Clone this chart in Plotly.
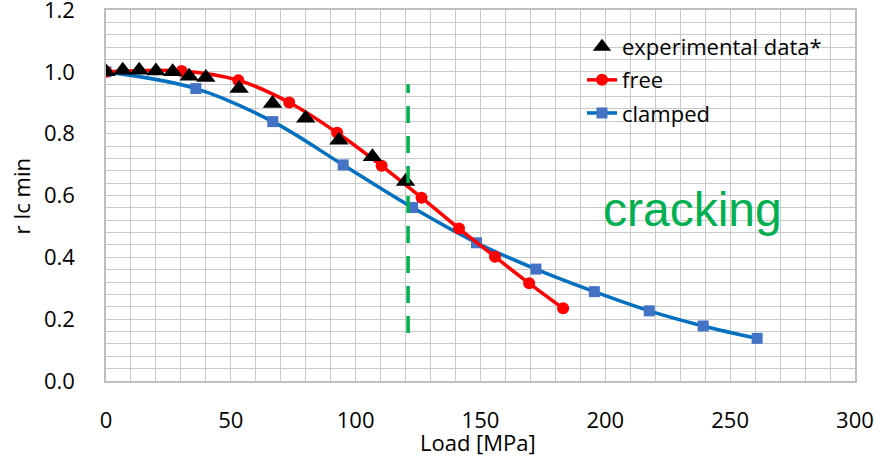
import plotly.graph_objects as go

# ---- data ----
exp_load = [0, 6.7, 13.3, 20, 26.7, 33.3, 40, 53.3, 66.7, 80, 93.3, 106.7, 120]
exp_r = [1.0, 1.005, 1.005, 1.003, 1.0, 0.986, 0.982, 0.946, 0.898, 0.850, 0.779, 0.725, 0.645]

free_load = [0, 30.3, 53, 73.4, 92.6, 110.4, 126.4, 141.4, 155.8, 169.5, 183.1]
free_r = [1.0, 1.003, 0.973, 0.901, 0.803, 0.696, 0.593, 0.493, 0.402, 0.316, 0.235]

clamped_load = [0, 36, 66.8, 95, 122.8, 148.4, 172.2, 195.6, 217.6, 239.2, 260.8]
clamped_r = [1.0, 0.946, 0.839, 0.699, 0.561, 0.447, 0.362, 0.289, 0.227, 0.178, 0.138]

crack_load = [121, 121]
crack_r = [0.155, 0.96]

x_ticks = [0, 50, 100, 150, 200, 250, 300]
y_ticks = [0.0, 0.2, 0.4, 0.6, 0.8, 1.0, 1.2]

FONT = "Open Sans"
GRID = "#CACACA"

fig = go.Figure()

fig.add_trace(go.Scatter(
    x=clamped_load, y=clamped_r, mode="lines+markers", name="clamped",
    line=dict(color="#0070C0", width=3.5, shape="spline", smoothing=1),
    marker=dict(symbol="square", size=11, color="#4472C4"),
    legendrank=3, legendgroup="c"))

fig.add_trace(go.Scatter(
    x=free_load, y=free_r, mode="lines+markers", name="free",
    line=dict(color="#FF0000", width=3.5, shape="spline", smoothing=1),
    marker=dict(symbol="circle", size=12, color="#FF0000"),
    legendrank=2, legendgroup="f"))

fig.add_trace(go.Scatter(
    x=exp_load, y=exp_r, mode="markers", name="experimental data*",
    marker=dict(symbol="triangle-up", size=17, color="black"),
    legendrank=1, legendgroup="e"))

fig.add_trace(go.Scatter(
    x=crack_load, y=crack_r, mode="lines", showlegend=False,
    line=dict(color="#00B050", width=3.5, dash="17px,13px")))

axis_common = dict(
    showline=True, linecolor="#BFBFBF", linewidth=1.5, mirror=True,
    showgrid=True, gridcolor=GRID, gridwidth=1, zeroline=False,
    ticks="", tickfont=dict(family=FONT, size=22, color="black"),
    ticklabeloverflow="allow", automargin=False,
)

fig.update_xaxes(range=[0, 300.01], tickvals=x_ticks,
                 ticktext=[str(v) for v in x_ticks],
                 minor=dict(dtick=10, showgrid=True, gridcolor=GRID, gridwidth=1),
                 ticklabelstandoff=19, **axis_common)
fig.update_yaxes(range=[0, 1.2001], tickvals=y_ticks,
                 ticktext=[f"{v:.1f}" for v in y_ticks],
                 minor=dict(dtick=0.04, showgrid=True, gridcolor=GRID, gridwidth=1),
                 ticklabelstandoff=25, **axis_common)

# white panel behind the legend
fig.add_shape(type="rect", xref="paper", yref="paper",
              x0=0.5888, x1=0.9973, y0=0.668, y1=0.9488,
              fillcolor="white", line=dict(width=0), layer="between")
# white panel behind "cracking"
fig.add_shape(type="rect", xref="paper", yref="paper",
              x0=0.622, x1=0.9426, y0=0.3666, y1=0.574,
              fillcolor="white", line=dict(width=0), layer="between")

fig.add_annotation(text="cracking", xref="paper", yref="paper",
                   x=0.7824, y=0.463, xanchor="center", yanchor="middle",
                   showarrow=False,
                   font=dict(family="Liberation Sans", size=48, color="#00B050"))

fig.add_annotation(text="Load [MPa]", xref="paper", yref="paper",
                   x=0.497, y=-0.164, xanchor="center", yanchor="middle",
                   showarrow=False, font=dict(family=FONT, size=22, color="black"))
fig.add_annotation(text="r Ic min", xref="paper", yref="paper",
                   x=-0.1135, y=0.5, xanchor="center", yanchor="middle",
                   textangle=-90, showarrow=False,
                   font=dict(family=FONT, size=22, color="black"))

fig.update_layout(
    width=885, height=456,
    margin=dict(l=106, r=30, t=10, b=75, autoexpand=False),
    paper_bgcolor="white", plot_bgcolor="white",
    font=dict(family=FONT, size=21, color="black"),
    showlegend=True,
    legend=dict(x=0.6355, y=0.957, xanchor="left", yanchor="top",
                bgcolor="rgba(0,0,0,0)", borderwidth=0, tracegroupgap=1.5,
                font=dict(family=FONT, size=22, color="black")),
)

fig.write_html("out.html")
